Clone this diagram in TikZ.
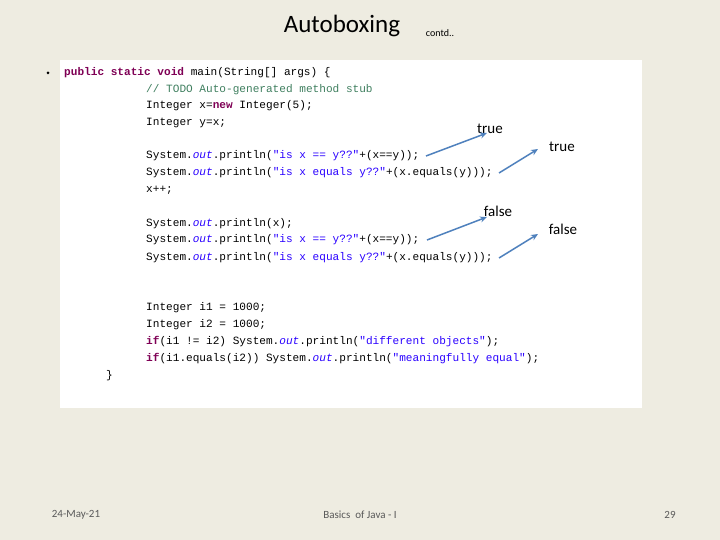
\documentclass[tikz,border=0pt]{standalone}
\usepackage{fontspec}
\usetikzlibrary{arrows.meta}
\setmainfont{Carlito}
\newfontfamily\codefont{Liberation Mono}
\definecolor{bg}{HTML}{EEECE1}
\definecolor{kw}{HTML}{7F0055}
\definecolor{str}{HTML}{2A00FF}
\definecolor{cmt}{HTML}{3F7F5F}
\definecolor{arr}{HTML}{4F81BD}
\begin{document}
\begin{tikzpicture}[x=1pt,y=-1pt,
  code/.style={anchor=base west,inner sep=0,font=\codefont\fontsize{11.1}{12}\selectfont},
  lbl/.style={anchor=base,inner sep=0,font=\fontsize{15}{18}\selectfont},
  foot/.style={inner sep=0,text=gray!70!black,font=\fontsize{11}{13}\selectfont},
  ar/.style={draw=arr,line width=1.5pt,-{Stealth[length=7pt,width=6pt]}}]
\fill[bg] (0,0) rectangle (720,540);
\useasboundingbox (0,0) rectangle (720,540);
\fill[white] (60,60) rectangle (642,408);
\node[inner sep=0,font=\fontsize{25}{28}\selectfont] (t) at (342,26) {Autoboxing};
\node[inner sep=0,font=\fontsize{10}{12}\selectfont] (c) at (440,33) {contd..};
\fill (48,73) circle (1.5pt);
\node[code] (l1) at (64,76) {\textcolor{kw}{\bfseries public static void} main(String[] args) \{};
\node[code] (l2) at (146,93) {\textcolor{cmt}{// TODO Auto-generated method stub}};
\node[code] (l3) at (146,109) {Integer x=\textcolor{kw}{\bfseries new} Integer(5);};
\node[code] (l4) at (146,126) {Integer y=x;};
\node[code] (l5) at (146,159) {System.\textit{\textcolor{str}{out}}.println(\textcolor{str}{"is x == y??"}+(x==y));};
\node[code] (l6) at (146,176) {System.\textit{\textcolor{str}{out}}.println(\textcolor{str}{"is x equals y??"}+(x.equals(y)));};
\node[code] (l7) at (146,193) {x++;};
\node[code] (l8) at (146,226) {System.\textit{\textcolor{str}{out}}.println(x);};
\node[code] (l9) at (146,243) {System.\textit{\textcolor{str}{out}}.println(\textcolor{str}{"is x == y??"}+(x==y));};
\node[code] (l10) at (146,260) {System.\textit{\textcolor{str}{out}}.println(\textcolor{str}{"is x equals y??"}+(x.equals(y)));};
\node[code] (l11) at (146,310) {Integer i1 = 1000;};
\node[code] (l12) at (146,327) {Integer i2 = 1000;};
\node[code] (l13) at (146,344) {\textcolor{kw}{\bfseries if}(i1 != i2) System.\textit{\textcolor{str}{out}}.println(\textcolor{str}{"different objects"});};
\node[code] (l14) at (146,361) {\textcolor{kw}{\bfseries if}(i1.equals(i2)) System.\textit{\textcolor{str}{out}}.println(\textcolor{str}{"meaningfully equal"});};
\node[code] (l15) at (106,378) {\}};
\node[lbl] (r1) at (490,134) {true};
\node[lbl] (r2) at (562,152) {true};
\node[lbl] (r3) at (498,217) {false};
\node[lbl] (r4) at (563,235) {false};
\coordinate (a1) at (426,156); \coordinate (b1) at (487,133);
\coordinate (a2) at (499,173); \coordinate (b2) at (538,149);
\coordinate (a3) at (427,240); \coordinate (b3) at (487,217);
\coordinate (a4) at (499,258); \coordinate (b4) at (538,234);
\draw[ar] (a1) -- (b1);
\draw[ar] (a2) -- (b2);
\draw[ar] (a3) -- (b3);
\draw[ar] (a4) -- (b4);
\node[foot] (f1) at (76,515) {24-May-21};
\node[foot] (f2) at (360,515) {Basics \ of Java - I};
\node[foot] (f3) at (670,515) {29};
\end{tikzpicture}
\end{document}
